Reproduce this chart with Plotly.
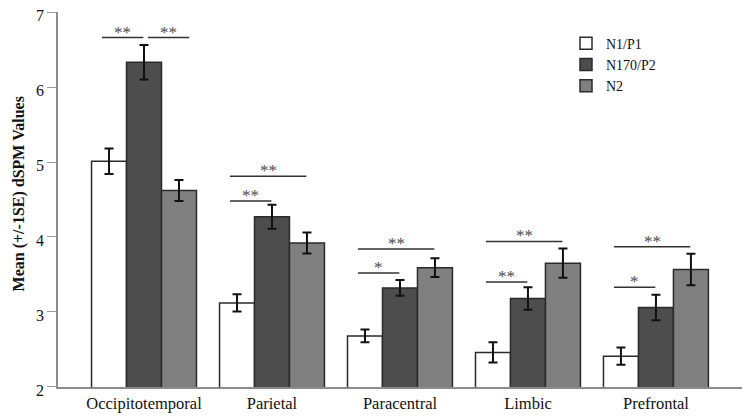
import plotly.graph_objects as go

categories = ["Occipitotemporal", "Parietal", "Paracentral", "Limbic", "Prefrontal"]
series_names = ["N1/P1", "N170/P2", "N2"]
n1p1 = [5.01, 3.12, 2.68, 2.46, 2.41]
n1p1_se = [0.17, 0.115, 0.085, 0.135, 0.115]
n170p2 = [6.33, 4.27, 3.32, 3.18, 3.06]
n170p2_se = [0.23, 0.16, 0.105, 0.15, 0.17]
n2 = [4.62, 3.92, 3.59, 3.65, 3.565]
n2_se = [0.14, 0.14, 0.125, 0.195, 0.21]
y_ticks = [2, 3, 4, 5, 6, 7]

# significance brackets: (category index, from series, to series, level, label)
sig_cat = [0, 0, 1, 1, 2, 2, 3, 3, 4, 4]
sig_from = [0, 1, 0, 0, 0, 0, 0, 0, 0, 0]
sig_to = [1, 2, 1, 2, 1, 2, 1, 2, 1, 2]
sig_level = [6.66, 6.66, 4.48, 4.81, 3.52, 3.84, 3.40, 3.94, 3.33, 3.87]
sig_label = ["**", "**", "**", "**", "*", "**", "**", "**", "*", "**"]

values = [n1p1, n170p2, n2]
errors = [n1p1_se, n170p2_se, n2_se]
fills = ["#ffffff", "#4d4d4d", "#808080"]

fig = go.Figure()
for name, v, e, c in zip(series_names, values, errors, fills):
    fig.add_trace(go.Bar(
        x=categories, y=v, name=name,
        marker=dict(color=c, line=dict(color="#2b2b2b", width=1.5)),
        error_y=dict(type="data", array=e, color="#111111", thickness=2, width=4.5),
    ))

bargap = 0.18
bw = (1 - bargap) / 3
offs = [-bw, 0.0, bw]
shapes = []
annotations = []
for ci, a, b, lev, lab in zip(sig_cat, sig_from, sig_to, sig_level, sig_label):
    shift = 0.085 if a == 1 else 0.0
    x0 = ci + offs[a] - 0.055 + shift
    x1 = ci + offs[b] - 0.005 + shift
    shapes.append(dict(type="line", xref="x", yref="y", x0=x0, x1=x1, y0=lev, y1=lev,
                       line=dict(color="#333333", width=1.5)))
    annotations.append(dict(x=(x0 + x1) / 2, y=lev, xref="x", yref="y", text=lab,
                            showarrow=False, yanchor="bottom", yshift=-6,
                            font=dict(family="Liberation Serif", size=17, color="#4a4a4a")))

annotations.append(dict(x=-0.0575, y=0.515, xref="paper", yref="paper",
                        text="<b>Mean (+/-1SE) dSPM Values</b>", textangle=-90,
                        showarrow=False, xanchor="center", yanchor="middle",
                        font=dict(family="Liberation Serif", size=16, color="#111111")))

# page body has an 8px default margin, so the figure is sized to fit within it
fig.update_layout(
    template="none",
    width=742, height=408,
    margin=dict(l=50, r=6, t=4, b=29, autoexpand=False),
    paper_bgcolor="white", plot_bgcolor="white",
    barmode="group", bargap=bargap, bargroupgap=0,
    font=dict(family="Liberation Serif", size=16, color="#111111"),
    shapes=shapes, annotations=annotations,
    legend=dict(x=(566 - 58) / 686, y=0.958, xanchor="left", yanchor="top",
                font=dict(family="Liberation Serif", size=14, color="#111111"),
                bgcolor="rgba(0,0,0,0)", tracegroupgap=0),
    xaxis=dict(range=[-0.672, 4.688], showline=True, linecolor="#8c8c8c", linewidth=1.5,
               ticks="", showgrid=False, zeroline=False, automargin=False,
               tickfont=dict(family="Liberation Serif", size=16.5, color="#111111")),
    yaxis=dict(range=[1.999, 7.001], tickvals=y_ticks, showline=True, linecolor="#8c8c8c",
               linewidth=1.5, ticks="outside", ticklen=9, tickcolor="#9a9a9a", tickwidth=1,
               showgrid=False, zeroline=False, automargin=False, ticklabeloverflow="allow",
               ticklabelshift=3,
               tickfont=dict(family="Liberation Serif", size=16, color="#111111")),
)

fig.write_html("out.html")
